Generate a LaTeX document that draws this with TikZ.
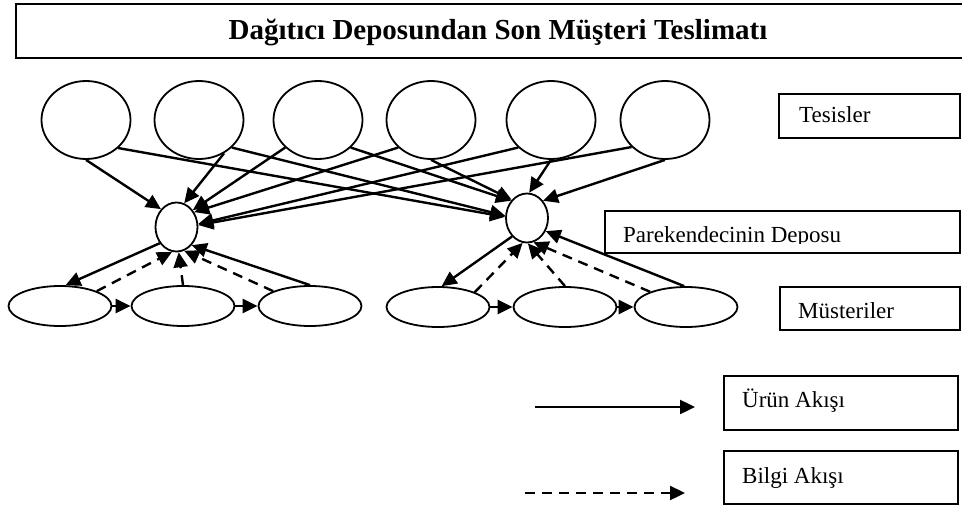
\documentclass[tikz,border=0pt]{standalone}
\usepackage{fontspec}
\setmainfont{Liberation Serif}
\usetikzlibrary{arrows.meta,shapes.geometric}
\begin{document}
\begin{tikzpicture}[x=1pt,y=-1pt,
  site/.style={draw, line width=1.8pt, ellipse, minimum width=89pt, minimum height=78pt, inner sep=0pt},
  depot/.style={draw, line width=1.8pt, ellipse, minimum width=42pt, minimum height=49pt, inner sep=0pt},
  cust/.style={draw, line width=1.8pt, ellipse, minimum width=103pt, minimum height=40pt, inner sep=0pt},
  flow/.style={line width=2.4pt, -{Triangle[length=15pt,width=14pt]}},
  info/.style={flow, dash pattern=on 10pt off 7pt},
  keybox/.style={draw, line width=1.8pt, rectangle, anchor=north west, inner sep=0pt},
  keytext/.style={anchor=base west, inner sep=0pt, font=\fontsize{23}{23}\selectfont},
]
\useasboundingbox (0,0) rectangle (962,509);
\clip (0,0) rectangle (962,509);

% title
\node[draw, line width=2.2pt, anchor=north west, minimum width=960pt, minimum height=54pt, inner sep=0pt] (titlebox) at (15,3) {};
\node[anchor=base, inner sep=0pt, font=\bfseries\fontsize{29}{29}\selectfont] (title) at (498,39.3) {Dağıtıcı Deposundan Son Müşteri Teslimatı};

% facilities
\node[site] (c1) at (86,120) {};
\node[site] (c2) at (199,120) {};
\node[site] (c3) at (318,120) {};
\node[site] (c4) at (431,120) {};
\node[site] (c5) at (551,120) {};
\node[site] (c6) at (665,120) {};

% retailer warehouses
\node[depot] (L) at (176.5,227) {};
\node[depot] (R) at (527,218) {};

% customers
\node[cust] (b1) at (60,306) {};
\node[cust] (b2) at (183,306) {};
\node[cust] (b3) at (310,306) {};
\node[cust] (b4) at (438,307) {};
\node[cust] (b5) at (565,307) {};
\node[cust] (b6) at (686,307) {};

% facilities -> warehouses
\draw[flow] (c1.-90) -- (L.131);
\draw[flow] (c2.-53) -- (L.72);
\draw[flow] (c3.-140) -- (L.46);
\draw[flow] (c4.-140) -- (L.40);
\draw[flow] (c5.-140) -- (L.8);
\draw[flow] (c6.-141) -- (L.5);
\draw[flow] (c1.-41) -- (R.177);
\draw[flow] (c2.-40) -- (R.174);
\draw[flow] (c3.-40) -- (R.133);
\draw[flow] (c4.-90) -- (R.130);
\draw[flow] (c5.-90) -- (R.85);
\draw[flow] (c6.-90) -- (R.47);

% left customer group
\draw[flow] (L.-136) -- (b1.75);
\draw[flow] (b3.90) -- (L.-50);
\draw[info] (b1.22) -- (L.-100);
\draw[info] (b2.90) -- (L.-85);
\draw[info] (b3.158) -- (L.-72);
\draw[flow] (b1.east) -- (b2.west);
\draw[flow] (b2.east) -- (b3.west);

% right customer group
\draw[flow] (R.-129) -- (b4.80);
\draw[flow] (b6.95) -- (R.-35);
\draw[info] (b4.22) -- (R.-100);
\draw[info] (b5.90) -- (R.-88);
\draw[info] (b6.157) -- (R.-75);
\draw[flow] (b4.east) -- (b5.west);
\draw[flow] (b5.east) -- (b6.west);

% level labels
\node[keybox, minimum width=181pt, minimum height=44pt] (tesbox) at (778,93) {};
\node[keytext] (testxt) at (799,122) {Tesisler};
\node[keybox, minimum width=355pt, minimum height=42pt] (depbox) at (604,210) {};
\begin{scope}
  \clip (604,210) rectangle (959,243);
  \node[keytext] (deptxt) at (623,242) {Parekendecinin Deposu};
\end{scope}
\node[keybox, minimum width=180pt, minimum height=43pt] (musbox) at (779,286) {};
\node[keytext] (mustxt) at (798,318) {Müsteriler};

% legend
\coordinate (s0) at (535,407);
\coordinate (s1) at (695,407);
\draw[flow] (s0) -- (s1);
\node[keybox, minimum width=234pt, minimum height=54pt] (urunbox) at (723,375) {};
\node[keytext] (uruntxt) at (742,407) {Ürün Akışı};
\coordinate (d0) at (525,493);
\coordinate (d1) at (685,493);
\draw[info] (d0) -- (d1);
\node[keybox, minimum width=234pt, minimum height=53pt] (bilgibox) at (723,450) {};
\node[keytext] (bilgitxt) at (742,483) {Bilgi Akışı};
\end{tikzpicture}
\end{document}
